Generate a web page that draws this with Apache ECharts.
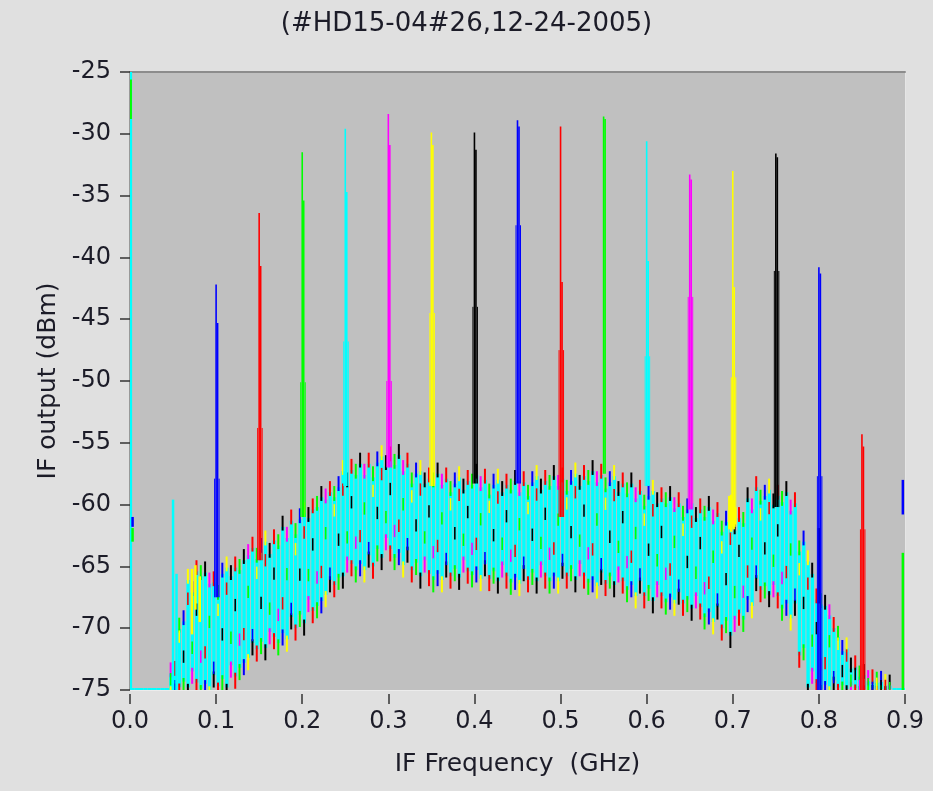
<!DOCTYPE html>
<html><head><meta charset="utf-8">
<script src="https://cdn.jsdelivr.net/npm/echarts@6/dist/echarts.min.js"></script>
<style>html,body{margin:0;padding:0;background:#e0e0e0;}#c{width:933px;height:791px;}</style>
</head><body><div id="c"></div>
<script>
// ---------- text ----------
const titleText = '(#HD15-04#26,12-24-2005)';
const xAxisName = 'IF Frequency  (GHz)';
const yAxisName = 'IF output (dBm)';
const xTickLabels = ['0.0','0.1','0.2','0.3','0.4','0.5','0.6','0.7','0.8','0.9'];
const yTickLabels = ['-75','-70','-65','-60','-55','-50','-45','-40','-35','-30','-25'];

// ---------- noise band envelope ----------
const bandFreq = [0.00,0.01,0.02,0.03,0.04,0.05,0.06,0.07,0.08,0.09,
  0.10,0.11,0.12,0.13,0.14,0.15,0.16,0.17,0.18,0.19,
  0.20,0.21,0.22,0.23,0.24,0.25,0.26,0.27,0.28,0.29,
  0.30,0.31,0.32,0.33,0.34,0.35,0.36,0.37,0.38,0.39,
  0.40,0.41,0.42,0.43,0.44,0.45,0.46,0.47,0.48,0.49,
  0.50,0.51,0.52,0.53,0.54,0.55,0.56,0.57,0.58,0.59,
  0.60,0.61,0.62,0.63,0.64,0.65,0.66,0.67,0.68,0.69,
  0.70,0.71,0.72,0.73,0.74,0.75,0.76,0.77,0.78,0.79,
  0.80,0.81,0.82,0.83,0.84,0.85,0.86,0.87,0.88,0.89,0.90];
const bandHigh = [-75,-75,-75,-75,-75,-73.5,-69,-66,-65,-65.5,
  -66,-65,-64.7,-64.5,-63.2,-63,-62.9,-62.5,-61.8,-61,
  -60.6,-60,-59.4,-58.7,-58,-57.2,-56.8,-56.7,-56.4,-56,
  -55.8,-56,-56.4,-56.9,-57.2,-57.5,-57.5,-57.6,-57.7,-57.7,
  -57.6,-57.7,-57.8,-57.9,-58,-58.1,-57.9,-57.6,-57.7,-57.7,
  -57.6,-57.5,-57.4,-57.3,-57.3,-57.3,-57.6,-57.9,-58.3,-58.6,
  -58.7,-58.8,-59.1,-59.4,-59.6,-59.8,-60,-60.2,-60.4,-60.8,
  -61,-60.7,-59.5,-58.3,-58.7,-58.9,-59,-59.6,-62.4,-64.5,
  -67.3,-68.2,-69.8,-71.6,-73,-73.8,-74.2,-74.3,-74.6,-74.8,-75];
const bandLow = [-75,-75,-75,-75,-75,-75,-75,-75,-75,-75,
  -75,-75,-74.5,-73.3,-72.4,-72,-71.8,-71.3,-70.9,-70.3,
  -69.8,-69.2,-68.3,-67.3,-66.8,-66,-65.4,-65.3,-65.3,-64.5,
  -64.2,-64.4,-64.9,-65.6,-66,-66.2,-66.1,-66.1,-66.1,-66,
  -65.8,-66,-66.3,-66.4,-66.4,-66.4,-66.4,-66.4,-66.4,-66.3,
  -66.2,-66.1,-66.3,-66.4,-66.6,-66.7,-66.7,-66.8,-67,-67.4,
  -67.7,-68,-68,-68,-68.3,-68.6,-68.9,-69.2,-69.5,-70.3,
  -70.8,-69.4,-68.2,-67.2,-67.5,-68,-68.5,-69.2,-72.5,-75,
  -75,-75,-75,-75,-75,-75,-75,-75,-75,-75,-75];

// ---------- LO-sweep spikes ----------
const spikeFreq     = [0.10,0.15,0.20,0.25,0.30,0.35,0.40,0.45,0.50,0.55,0.60,0.65,0.70,0.75,0.80,0.85];
const spikeTrace    = ['blue','red','green','cyan','magenta','yellow','black','blue','red','green','cyan','magenta','yellow','black','blue','red'];
const spikePeak     = [-42.2,-36.4,-31.5,-29.6,-28.4,-29.9,-29.9,-28.9,-29.4,-28.6,-30.6,-33.3,-33.0,-31.6,-40.8,-54.3];
const spikeShoulder = [-45.3,-40.7,-35.4,-34.7,-30.9,-30.9,-31.3,-29.4,-42.0,-28.8,-40.3,-33.7,-42.4,-31.9,-41.3,-55.3];
const spikeLow      = [-57.9,-53.8,-50.1,-46.8,-50.0,-44.5,-44.0,-37.4,-47.5,-57.5,-48.0,-43.2,-49.7,-41.1,-57.7,-62.0];
const spikeBase     = [-67.5,-64.5,-61.0,-58.5,-57.0,-58.5,-58.3,-58.3,-61.0,-57.5,-58.5,-60.4,-61.8,-60.2,-75,-75];

// ---------- other isolated vertical traces ----------
const markFreq   = [0.001,0.0008,0.003,0.003,0.050,0.054,0.800,0.8975,0.8975,0.696,0.698,0.701,0.703,0.072,0.076,0.081];
const markTop    = [-25,-25.6,-61.0,-61.9,-59.6,-65.6,-61.9,-58.0,-63.9,-59.3,-59.2,-59.6,-60.2,-65.2,-64.9,-65.8];
const markBottom = [-75,-28.8,-61.8,-63.0,-75,-75,-68.0,-60.8,-75,-62.0,-62.2,-62.0,-61.6,-70.5,-68.5,-69.5];
const markTrace  = ['cyan','green','blue','green','cyan','cyan','black','blue','green','yellow','yellow','yellow','yellow','yellow','yellow','yellow'];

// ---------- styling ----------
const traceColor = {cyan:'#00ffff', blue:'#0000ff', red:'#ff0000', green:'#00ff00',
  magenta:'#ff00ff', yellow:'#ffff00', black:'#000000'};
const speckOrder = ['black','magenta','red','green','blue','yellow','black','red','green'];
const jagTop = [0, 0.9, 0.3, 1.4, 0.6, 0.1, 1.1, 0.4, 0.8];   // visual raggedness of bar tips (dB)
const jagBot = [0.5, 0, 1.2, 0.3, 0.9, 0.2, 1.5, 0.6, 0.1];
const midPos = [0.32, 0.58, 0.2, 0.72, 0.45, 0.82, 0.38, 0.65, 0.27];
const FONT = 'DejaVu Sans';
const TXT = '#1c1c28';

const bandData = bandFreq.map((f, i) => [f, bandLow[i], bandHigh[i]]);
const spikeData = spikeFreq.map((f, i) => [f, spikeBase[i], spikePeak[i], spikeShoulder[i], spikeLow[i]]);
const markData = markFreq.map((f, i) => [f, markBottom[i], markTop[i]]);

function vline(x, y1, y2, color, w) {
  return {type:'line', shape:{x1:x, y1:y1, x2:x, y2:y2}, style:{stroke:color, lineWidth:w}};
}
function vrect(x, w, yA, yB, color) {
  const y = Math.min(yA, yB), h = Math.max(Math.abs(yB - yA), 2);
  return {type:'rect', shape:{x:x, y:y - (Math.abs(yB-yA) < 2 ? 1 : 0), width:w, height:h}, style:{fill:color}};
}

function renderBand(params, api) {
  const i = params.dataIndex;
  const f = api.value(0), lo = api.value(1), hi = api.value(2);
  const xl = api.coord([f - 0.005, lo])[0];
  const xr = api.coord([f + 0.005, lo])[0];
  const pitch = (xr - xl) / 2;
  const children = [];
  const span = hi - lo;
  for (let k = 0; k < 2; k++) {
    const n = (i * 2 + k) % 9;
    const x = xl + k * pitch + 0.4;
    if (span < 0.3) {
      const yb = api.coord([f, lo])[1];
      children.push(vrect(x, pitch, yb, yb - 2, traceColor.cyan));
      continue;
    }
    const top = hi - jagTop[n] * Math.min(1, span / 8);
    const bot = lo + jagBot[n] * Math.min(1, span / 8);
    const yt = api.coord([f, top])[1], yb = api.coord([f, bot])[1];
    children.push(vrect(x, pitch - 0.9, yt, yb, traceColor.cyan));
    const ct = traceColor[speckOrder[n]];
    const cb = traceColor[speckOrder[(n + 4) % 9]];
    const cm = traceColor[speckOrder[(n + 2) % 9]];
    children.push(vrect(x + 0.5, 2, api.coord([f, top + 0.9])[1], api.coord([f, top - 0.3])[1], ct));
    children.push(vrect(x + 0.5, 2, api.coord([f, bot + 0.3])[1], api.coord([f, bot - 1.0])[1], cb));
    const mp = lo + midPos[n] * span;
    children.push(vrect(x + 0.7, 1.6, api.coord([f, mp + 0.5])[1], api.coord([f, mp - 0.5])[1], cm));
  }
  return {type:'group', children: children};
}

const chart = echarts.init(document.getElementById('c'), null, {renderer:'canvas'});
chart.setOption({
  animation: false,
  backgroundColor: '#e0e0e0',
  title: {text: titleText, left: 'center', top: 6,
    textStyle:{fontFamily: FONT, fontSize: 26, fontWeight:'normal', color: TXT}},
  grid: {left:130, right:28, top:72, bottom:101, show:true, backgroundColor:'#c0c0c0', borderWidth:0},
  xAxis: [
    {type:'value', min:0, max:0.9, interval:0.1, position:'bottom', offset:4,
     name: xAxisName, nameLocation:'middle', nameGap:58,
     nameTextStyle:{fontFamily:FONT, fontSize:25, color:TXT},
     axisLine:{show:false}, splitLine:{show:false},
     axisTick:{show:true, length:10, lineStyle:{color:'#333', width:1.5}},
     axisLabel:{fontFamily:FONT, fontSize:24, color:TXT, margin:16,
       formatter: v => xTickLabels[Math.round(v*10)]}},
    {type:'value', min:0, max:0.9, position:'top', axisLine:{show:true, onZero:false, lineStyle:{color:'#8c8c8c', width:2}},
     axisTick:{show:false}, axisLabel:{show:false}, splitLine:{show:false}},
    {type:'value', min:0, max:0.9, position:'bottom', axisLine:{show:true, onZero:false, lineStyle:{color:'#ececec', width:1}},
     axisTick:{show:false}, axisLabel:{show:false}, splitLine:{show:false}}
  ],
  yAxis: [
    {type:'value', min:-75, max:-25, interval:5, position:'left', offset:5,
     name: yAxisName, nameLocation:'middle', nameGap:63, nameRotate:90,
     nameTextStyle:{fontFamily:FONT, fontSize:25, color:TXT},
     axisLine:{show:false}, splitLine:{show:false},
     axisTick:{show:true, length:10, lineStyle:{color:'#333', width:1.5}},
     axisLabel:{fontFamily:FONT, fontSize:24, color:TXT, margin:14,
       formatter: v => yTickLabels[Math.round((v + 75) / 5)]}},
    {type:'value', min:-75, max:-25, position:'left', axisLine:{show:true, onZero:false, lineStyle:{color:'#999999', width:2}},
     axisTick:{show:false}, axisLabel:{show:false}, splitLine:{show:false}},
    {type:'value', min:-75, max:-25, position:'right', axisLine:{show:true, onZero:false, lineStyle:{color:'#e6e6e6', width:1}},
     axisTick:{show:false}, axisLabel:{show:false}, splitLine:{show:false}}
  ],
  series: [
    {type:'custom', data: bandData, clip:true, silent:true, z:3, renderItem: renderBand},
    {type:'custom', data: markData, clip:true, silent:true, z:4,
     renderItem: (params, api) => {
       const b = api.coord([api.value(0), api.value(1)]);
       const t = api.coord([api.value(0), api.value(2)]);
       return vline(b[0], b[1], t[1], traceColor[markTrace[params.dataIndex]], 2.5);
     }},
    {type:'custom', data: spikeData, clip:true, silent:true, z:5,
     renderItem: (params, api) => {
       const f = api.value(0);
       const c = traceColor[spikeTrace[params.dataIndex]];
       const b = api.coord([f, api.value(1)]);
       const p = api.coord([f, api.value(2)]);
       const s = api.coord([f, api.value(3)]);
       const l = api.coord([f, api.value(4)]);
       const x = b[0];
       return {type:'group', children:[
         vline(x - 1.5, b[1], l[1], c, 1),
         vline(x + 3, b[1], l[1], c, 1),
         vline(x, b[1], p[1], c, 1.6),
         vline(x + 1.5, b[1], s[1], c, 1.6)
       ]};
     }}
  ]
});
</script>
</body></html>
